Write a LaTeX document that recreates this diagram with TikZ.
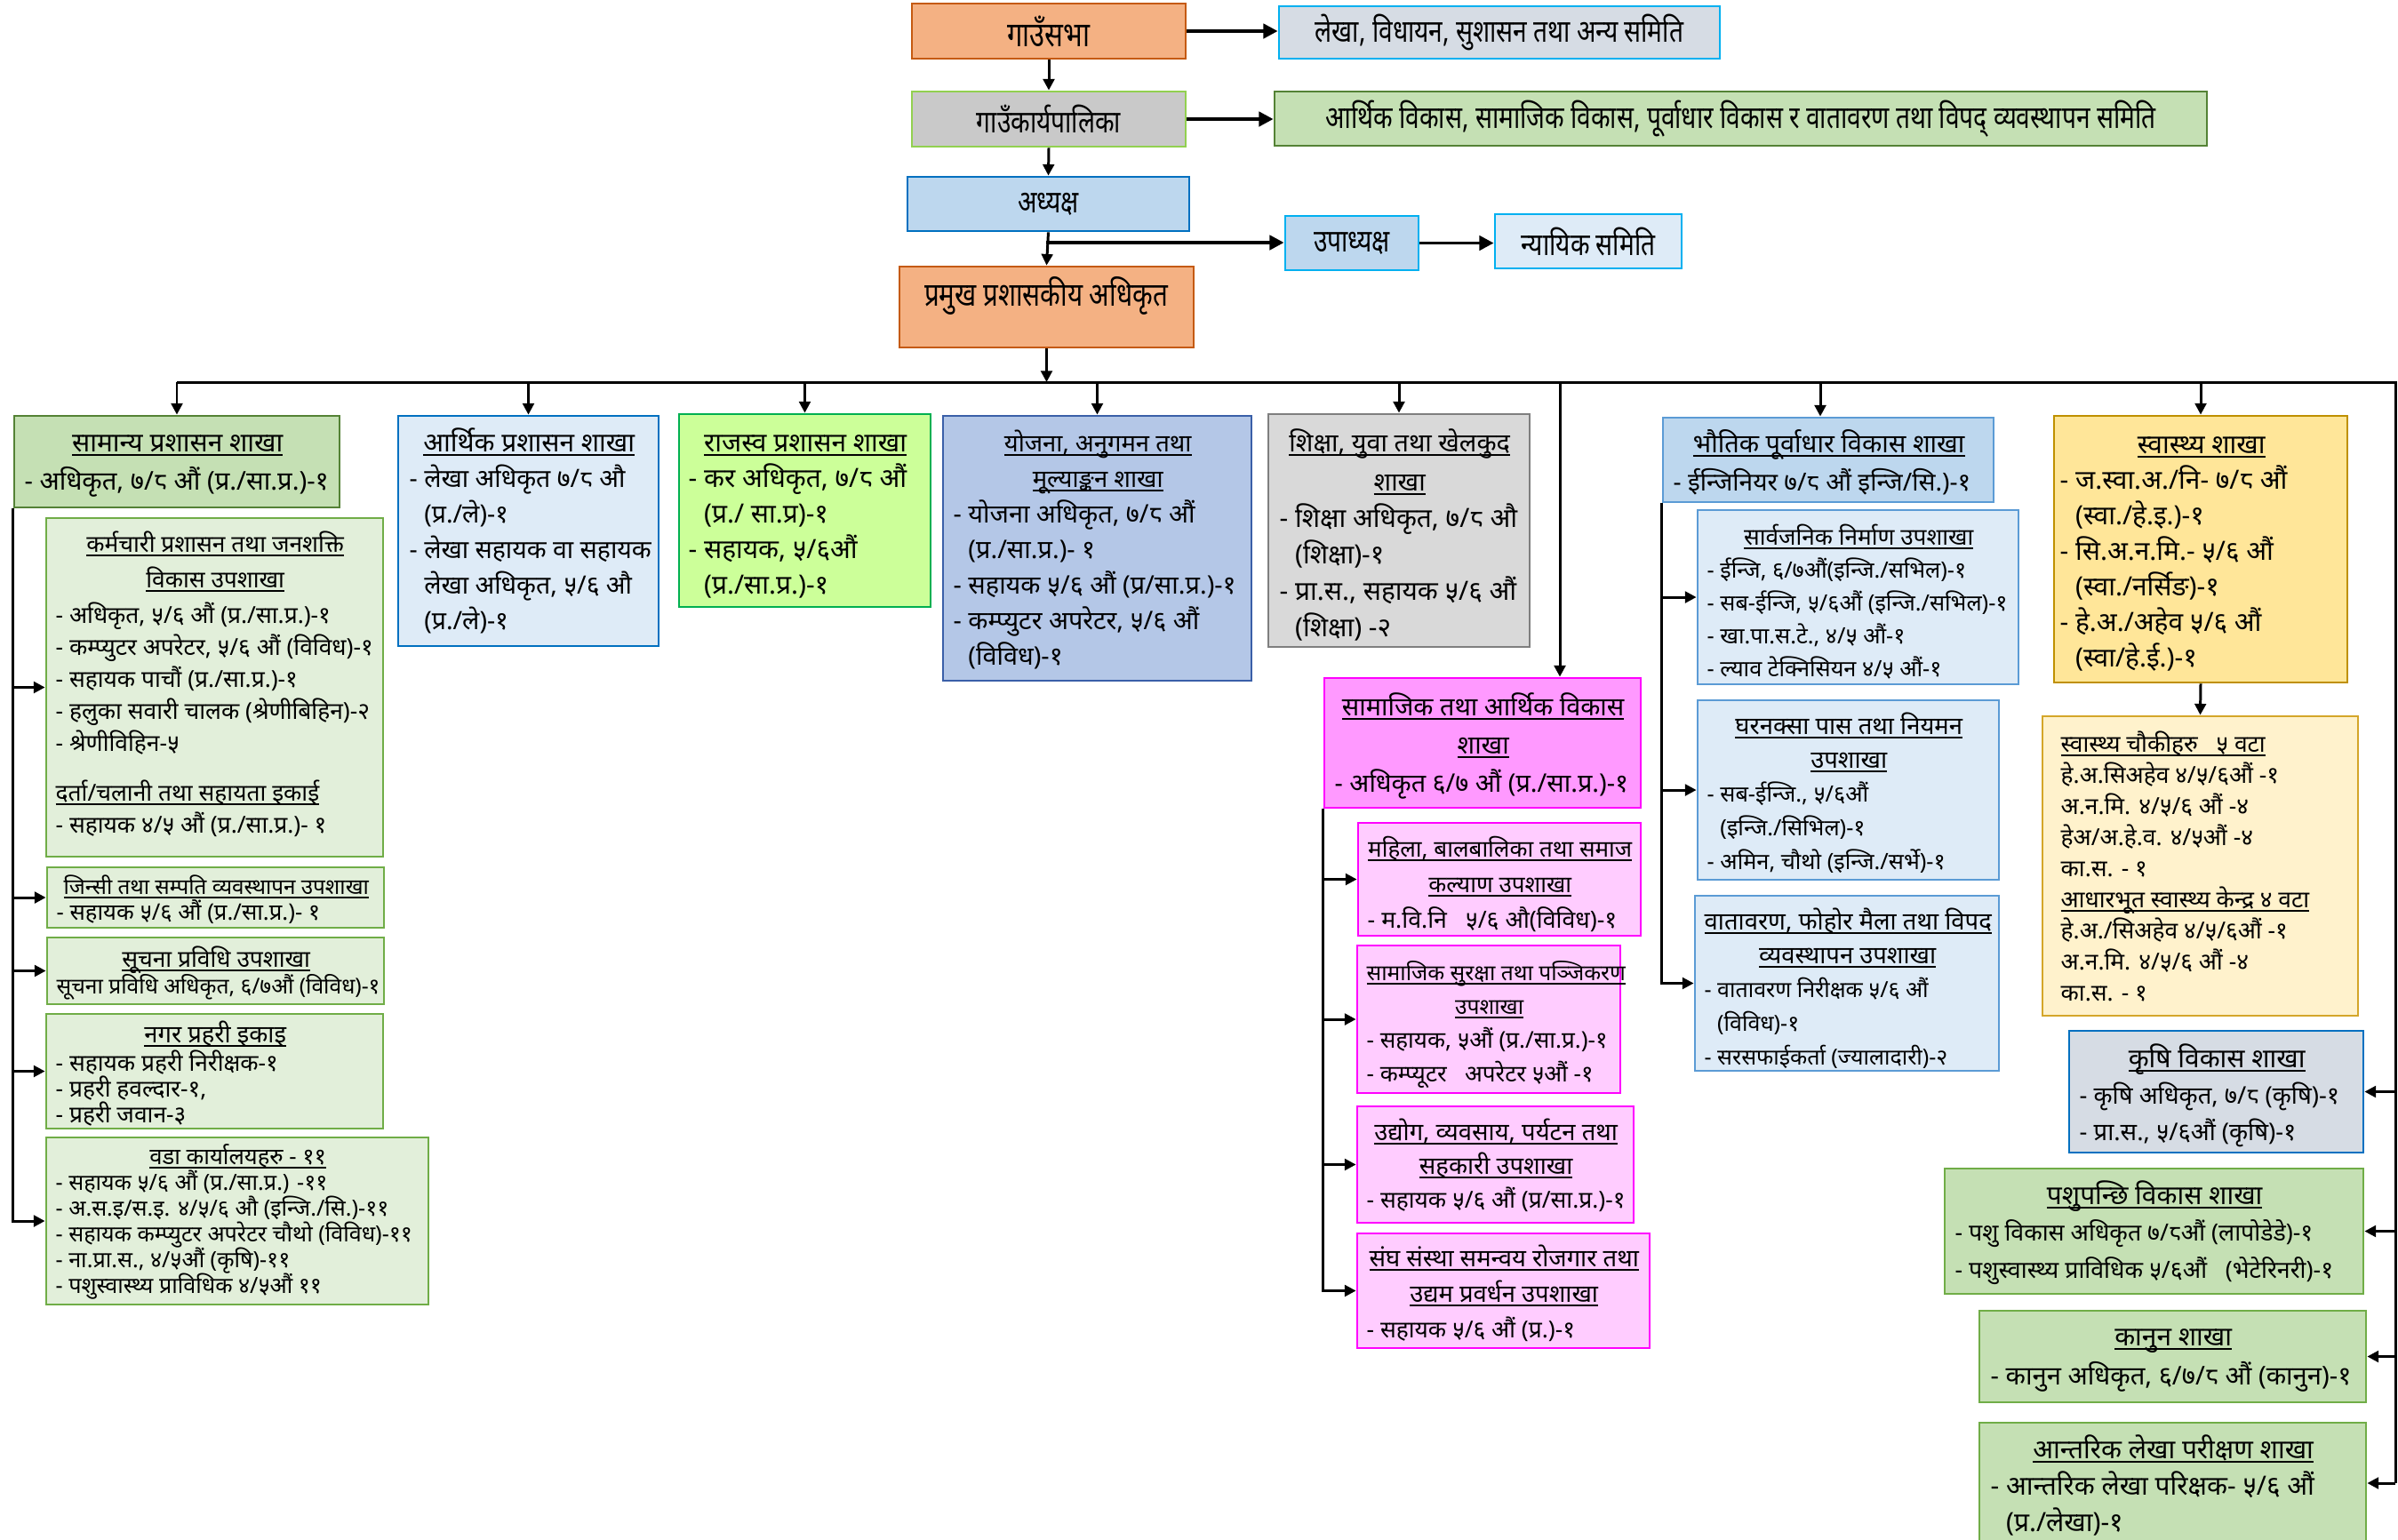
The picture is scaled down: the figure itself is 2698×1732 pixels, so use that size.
\documentclass[tikz,border=0pt]{standalone}
\usepackage{fontspec}
\usetikzlibrary{arrows.meta,calc}
\newfontfamily\dev[Script=Devanagari,Language=Nepali]{Noto Sans}
\newfontfamily\devc[Script=Devanagari,Language=Nepali,FakeStretch=0.8]{Noto Sans}
\newlength\pxu \setlength\pxu{0.1mm}
\newlength\twd
\def\hsz{8.5}
\newcommand\myul[1]{\setbox0=\hbox{#1}\rlap{\rule[-1.3pt]{\wd0}{0.55pt}}\box0}
\newcommand\Lh[1]{\hbox to\twd{\hfil\fontsize{\hsz}{10}\selectfont\bfseries\myul{#1}\hfil}}
\newcommand\Ll[1]{\hbox{\fontsize{\hsz}{10}\selectfont\bfseries\myul{#1}}}
\newcommand\Lb[1]{\hbox{#1}}
\newcommand\Sk[1]{\vskip#1\pxu}
\newcommand\ind{\hphantom{- }}
\definecolor{orF}{HTML}{F4B183}\definecolor{orD}{HTML}{C55A11}
\definecolor{bgF}{HTML}{D6DCE4}\definecolor{cyD}{HTML}{00B0F0}
\definecolor{grF}{HTML}{C9C9C9}\definecolor{lgD}{HTML}{92D050}
\definecolor{gnF}{HTML}{C5E0B4}\definecolor{gnD}{HTML}{548235}
\definecolor{gnL}{HTML}{E2EFDA}\definecolor{gnM}{HTML}{70AD47}
\definecolor{blF}{HTML}{BDD7EE}\definecolor{blD}{HTML}{0070C0}
\definecolor{pbF}{HTML}{DEEBF7}\definecolor{mbD}{HTML}{5B9BD5}
\definecolor{liF}{HTML}{CCFF99}\definecolor{liD}{HTML}{00B050}
\definecolor{peF}{HTML}{B4C7E7}\definecolor{peD}{HTML}{3A5FA8}
\definecolor{g2F}{HTML}{D9D9D9}\definecolor{g2D}{HTML}{7F7F7F}
\definecolor{pkF}{HTML}{FF99FF}\definecolor{pkD}{HTML}{FF00FF}\definecolor{pkL}{HTML}{FFCCFF}
\definecolor{yeF}{HTML}{FFE699}\definecolor{yeD}{HTML}{BF9000}\definecolor{yeL}{HTML}{FFF2CC}\definecolor{yeM}{HTML}{D4A62A}
\tikzset{
  boxs/.style={rectangle, draw, line width=0.8pt, inner sep=0pt},
  txt/.style={anchor=base west, inner sep=0pt},
  conn/.style={line width=0.85pt, black},
  arr/.style={conn, -{Triangle[length=3.6pt,width=3.6pt]}},
  arrt/.style={line width=1.1pt, black, -{Triangle[length=4.6pt,width=4.6pt]}},
  topf/.style={font=\devc\fontsize{10}{12}\selectfont},
}
\newcommand\bx[7]{\node[boxs,#6,minimum width={(#4-#2)*\pxu},minimum height={(#5-#3)*\pxu}] (#1) at ({(#2+#4)/2},{(#3+#5)/2}) {#7};}
% name, x, baseline y, header width, body size, header size, line skip, lines
\newcommand\tx[8]{\setlength\twd{#4\pxu}\def\hsz{#6}\node[txt,font=\dev\fontsize{#5}{#7\pxu}\selectfont] (#1) at (#2,#3) {\vtop{\lineskiplimit=-100pt \lineskip=0pt #8}};}
\begin{document}
\begin{tikzpicture}[x=0.1mm,y=-0.1mm]
\useasboundingbox (0,0) rectangle (2698,1732);
\fill[white] (0,0) rectangle (2698,1732);
% ---------- top ----------
\bx{sabha}{1026}{4}{1334}{66}{fill=orF,draw=orD,topf,font=\devc\fontsize{11}{13}\selectfont\bfseries}{गाउँसभा}
\bx{lekha}{1439}{7}{1935}{66}{fill=bgF,draw=cyD,topf}{लेखा, विधायन, सुशासन तथा अन्य समिति}
\bx{karya}{1026}{103}{1334}{165}{fill=grF,draw=lgD,topf}{गाउँकार्यपालिका}
\bx{samiti}{1434}{103}{2483}{164}{fill=gnF,draw=gnD,topf}{आर्थिक विकास, सामाजिक विकास, पूर्वाधार विकास र वातावरण तथा विपद् व्यवस्थापन समिति}
\bx{adhy}{1021}{199}{1338}{260}{fill=blF,draw=blD,topf}{अध्यक्ष}
\bx{upadhy}{1446}{243}{1596}{304}{fill=blF,draw=cyD,topf}{उपाध्यक्ष}
\bx{nyayik}{1682}{241}{1892}{302}{fill=pbF,draw=cyD,topf}{न्यायिक समिति}
\bx{pramukh}{1012}{300}{1343}{391}{fill=orF,draw=orD}{}
\node[inner sep=0pt,font=\devc\fontsize{10.5}{12}\selectfont\bfseries] (pramukh-t) at (1177,333) {प्रमुख प्रशासकीय अधिकृत};
% ---------- left column ----------
\bx{samanya}{16}{468}{382}{571}{fill=gnF,draw=gnD}{}
\bx{karm}{52}{583}{431}{964}{fill=gnL,draw=gnM}{}
\bx{jinsi}{53}{976}{432}{1044}{fill=gnL,draw=gnM}{}
\bx{suchana}{53}{1055}{432}{1130}{fill=gnL,draw=gnM}{}
\bx{nagar}{52}{1141}{431}{1270}{fill=gnL,draw=gnM}{}
\bx{wada}{52}{1280}{482}{1468}{fill=gnL,draw=gnM}{}
% ---------- middle ----------
\bx{arthik}{448}{468}{741}{727}{fill=pbF,draw=blD}{}
\bx{rajasva}{764}{466}{1047}{683}{fill=liF,draw=liD}{}
\bx{yojana}{1061}{468}{1408}{766}{fill=peF,draw=peD}{}
\bx{shiksha}{1427}{466}{1721}{728}{fill=g2F,draw=g2D}{}
\bx{samajik}{1490}{763}{1846}{909}{fill=pkF,draw=pkD}{}
\bx{mahila}{1528}{926}{1846}{1053}{fill=pkL,draw=pkD}{}
\bx{suraksha}{1527}{1064}{1823}{1230}{fill=pkL,draw=pkD}{}
\bx{udyog}{1527}{1245}{1838}{1376}{fill=pkL,draw=pkD}{}
\bx{sangh}{1527}{1388}{1856}{1517}{fill=pkL,draw=pkD}{}
\bx{bhautik}{1871}{470}{2243}{565}{fill=blF,draw=mbD}{}
\bx{sarv}{1910}{574}{2271}{770}{fill=pbF,draw=mbD}{}
\bx{ghar}{1910}{788}{2249}{990}{fill=pbF,draw=mbD}{}
\bx{vata}{1907}{1008}{2249}{1205}{fill=pbF,draw=mbD}{}
% ---------- right ----------
\bx{swas}{2311}{468}{2641}{768}{fill=yeF,draw=yeD}{}
\bx{chauki}{2298}{806}{2653}{1143}{fill=yeL,draw=yeM}{}
\bx{krishi}{2328}{1160}{2659}{1297}{fill=bgF,draw=blD}{}
\bx{pashu}{2188}{1315}{2659}{1456}{fill=gnF,draw=gnM}{}
\bx{kanun}{2227}{1475}{2662}{1578}{fill=gnF,draw=gnM}{}
\bx{antarik}{2227}{1601}{2662}{1737}{fill=gnF,draw=gnM}{}
% ---------- texts ----------
\tx{t-sam}{27}{508}{344}{8.3}{8.5}{43}{\Lh{सामान्य प्रशासन शाखा}\Lb{- अधिकृत, ७/८ औं (प्र./सा.प्र.)-१}}
\tx{t-karm}{62}{621}{359}{7.5}{7.5}{36}{\Lh{कर्मचारी प्रशासन तथा जनशक्ति}\Sk{4}\Lh{विकास उपशाखा}\Sk{4}\Lb{- अधिकृत, ५/६ औं (प्र./सा.प्र.)-१}\Lb{- कम्प्युटर अपरेटर, ५/६ औं (विविध)-१}\Lb{- सहायक पाचौं (प्र./सा.प्र.)-१}\Lb{- हलुका सवारी चालक (श्रेणीबिहिन)-२}\Lb{- श्रेणीविहिन-५}\Sk{20}\Ll{दर्ता/चलानी तथा सहायता इकाई}\Lb{- सहायक ४/५ औं (प्र./सा.प्र.)- १}}
\tx{t-jin}{63}{1006}{359}{7.3}{6.9}{29}{\Lh{जिन्सी तथा सम्पति व्यवस्थापन उपशाखा}\Lb{- सहायक ५/६ औं (प्र./सा.प्र.)- १}}
\tx{t-such}{63}{1088}{359}{7.0}{7.5}{30}{\Lh{सूचना प्रविधि उपशाखा}\Lb{सूचना प्रविधि अधिकृत, ६/७औं (विविध)-१}}
\tx{t-nag}{62}{1173}{359}{7.5}{7.8}{29}{\Lh{नगर प्रहरी इकाइ}\Sk{3}\Lb{- सहायक प्रहरी निरीक्षक-१}\Lb{- प्रहरी हवल्दार-१,}\Lb{- प्रहरी जवान-३}}
\tx{t-wada}{62}{1310}{410}{7.15}{7.3}{29}{\Lh{वडा कार्यालयहरु - ११}\Lb{- सहायक ५/६ औं (प्र./सा.प्र.) -११}\Lb{- अ.स.इ/स.इ. ४/५/६ औ (इन्जि./सि.)-११}\Lb{- सहायक कम्प्युटर अपरेटर चौथो (विविध)-११}\Lb{- ना.प्रा.स., ४/५औं (कृषि)-११}\Lb{- पशुस्वास्थ्य प्राविधिक ४/५औं ११}}
\tx{t-arth}{460}{508}{269}{8.1}{8.5}{40}{\Lh{आर्थिक प्रशासन शाखा}\Lb{- लेखा अधिकृत ७/८ औ}\Lb{\ind(प्र./ले)-१}\Lb{- लेखा सहायक वा सहायक}\Lb{\ind लेखा अधिकृत, ५/६ औ}\Lb{\ind(प्र./ले)-१}}
\tx{t-raj}{774}{508}{263}{8.5}{8.5}{40}{\Lh{राजस्व प्रशासन शाखा}\Lb{- कर अधिकृत, ७/८ औं}\Lb{\ind(प्र./ सा.प्र)-१}\Lb{- सहायक, ५/६औं}\Lb{\ind(प्र./सा.प्र.)-१}}
\tx{t-yoj}{1072}{508}{325}{8.2}{7.8}{40}{\Lh{योजना, अनुगमन तथा}\Lh{मूल्याङ्कन शाखा}\Lb{- योजना अधिकृत, ७/८ औं}\Lb{\ind(प्र./सा.प्र.)- १}\Lb{- सहायक ५/६ औं (प्र/सा.प्र.)-१}\Lb{- कम्प्युटर अपरेटर, ५/६ औं}\Lb{\ind(विविध)-१}}
\tx{t-shik}{1439}{508}{270}{8.5}{8.2}{41}{\Lh{शिक्षा, युवा तथा खेलकुद}\Sk{3}\Lh{शाखा}\Lb{- शिक्षा अधिकृत, ७/८ औ}\Lb{\ind(शिक्षा)-१}\Lb{- प्रा.स., सहायक ५/६ औं}\Lb{\ind(शिक्षा) -२}}
\tx{t-samj}{1501}{805}{334}{8.2}{8.2}{43}{\Lh{सामाजिक तथा आर्थिक विकास}\Lh{शाखा}\Lb{- अधिकृत ६/७ औं (प्र./सा.प्र.)-१}}
\tx{t-mah}{1538}{964}{298}{7.6}{7.4}{40}{\Lh{महिला, बालबालिका तथा समाज}\Lh{कल्याण उपशाखा}\Lb{- म.वि.नि ~ ५/६ औ(विविध)-१}}
\tx{t-sur}{1537}{1103}{276}{7.4}{7.0}{38}{\Lh{सामाजिक सुरक्षा तथा पञ्जिकरण}\Lh{उपशाखा}\Lb{- सहायक, ५औं (प्र./सा.प्र.)-१}\Lb{- कम्प्यूटर ~ अपरेटर ५औं -१}}
\tx{t-udy}{1537}{1283}{291}{7.5}{7.8}{38}{\Lh{उद्योग, व्यवसाय, पर्यटन तथा}\Lh{सहकारी उपशाखा}\Lb{- सहायक ५/६ औं (प्र/सा.प्र.)-१}}
\tx{t-sangh}{1537}{1425}{309}{7.5}{7.8}{40}{\Lh{संघ संस्था समन्वय रोजगार तथा}\Lh{उद्यम प्रवर्धन उपशाखा}\Lb{- सहायक ५/६ औं (प्र.)-१}}
\tx{t-bhau}{1882}{509}{350}{8.0}{8.25}{43}{\Lh{भौतिक पूर्वाधार विकास शाखा}\Lb{- ईन्जिनियर ७/८ औं इन्जि/सि.)-१}}
\tx{t-sarv}{1920}{613}{341}{7.2}{7.45}{37}{\Lh{सार्वजनिक निर्माण उपशाखा}\Lb{- ईन्जि, ६/७औं(इन्जि./सभिल)-१}\Lb{- सब-ईन्जि, ५/६औं (इन्जि./सभिल)-१}\Lb{- खा.पा.स.टे., ४/५ औं-१}\Lb{- ल्याव टेक्निसियन ४/५ औं-१}}
\tx{t-ghar}{1920}{826}{319}{7.2}{7.8}{38}{\Lh{घरनक्सा पास तथा नियमन}\Lh{उपशाखा}\Lb{- सब-ईन्जि., ५/६औं}\Lb{\ind(इन्जि./सिभिल)-१}\Lb{- अमिन, चौथो (इन्जि./सर्भे)-१}}
\tx{t-vata}{1917}{1046}{322}{7.1}{7.8}{38}{\Lh{वातावरण, फोहोर मैला तथा विपद}\Lh{व्यवस्थापन उपशाखा}\Lb{- वातावरण निरीक्षक ५/६ औं}\Lb{\ind(विविध)-१}\Lb{- सरसफाईकर्ता (ज्यालादारी)-२}}
\tx{t-swas}{2317}{510}{318}{8.5}{8.5}{40}{\Lh{स्वास्थ्य शाखा}\Lb{- ज.स्वा.अ./नि- ७/८ औं}\Lb{\ind(स्वा./हे.इ.)-१}\Lb{- सि.अ.न.मि.- ५/६ औं}\Lb{\ind(स्वा./नर्सिङ)-१}\Lb{- हे.अ./अहेव ५/६ औं}\Lb{\ind(स्वा/हे.ई.)-१}}
\tx{t-chau}{2318}{846}{315}{7.5}{7.5}{35}{\Ll{स्वास्थ्य चौकीहरु ~ ५ वटा}\Lb{हे.अ.सिअहेव ४/५/६औं -१}\Lb{अ.न.मि. ४/५/६ औं -४}\Lb{हेअ/अ.हे.व. ४/५औं -४}\Lb{का.स. - १}\Ll{आधारभूत स्वास्थ्य केन्द्र ४ वटा}\Lb{हे.अ./सिअहेव ४/५/६औं -१}\Lb{अ.न.मि. ४/५/६ औं -४}\Lb{का.स. - १}}
\tx{t-kri}{2339}{1201}{309}{7.8}{8.5}{41}{\Lh{कृषि विकास शाखा}\Lb{- कृषि अधिकृत, ७/८ (कृषि)-१}\Lb{- प्रा.स., ५/६औं (कृषि)-१}}
\tx{t-pashu}{2199}{1355}{449}{7.6}{8.5}{41.5}{\Lh{पशुपन्छि विकास शाखा}\Lb{- पशु विकास अधिकृत ७/८औं (लापोडेडे)-१}\Lb{- पशुस्वास्थ्य प्राविधिक ५/६औं ~ (भेटेरिनरी)-१}}
\tx{t-kanun}{2239}{1514}{411}{8.3}{8.5}{44}{\Lh{कानुन शाखा}\Lb{- कानुन अधिकृत, ६/७/८ औं (कानुन)-१}}
\tx{t-ant}{2239}{1641}{411}{8.5}{8.5}{41}{\Lh{आन्तरिक लेखा परीक्षण शाखा}\Lb{- आन्तरिक लेखा परिक्षक- ५/६ औं}\Lb{\ind(प्र./लेखा)-१}}
% ---------- connectors ----------
\draw[arrt] (sabha.east) -- (sabha.east -| lekha.west);
\draw[arrt] (karya.east) -- (karya.east -| samiti.west);
\draw[arr] (sabha.south) -- (karya.north);
\draw[arr] (karya.south) -- (adhy.north);
\draw[arr] (adhy.south) -- (pramukh.north);
\coordinate (jU) at (1177,273);
\draw[arrt] (jU) -- (jU -| upadhy.west);
\draw[arrt] (upadhy.east) -- (upadhy.east -| nyayik.west);
\coordinate (busC) at (1177,430);
\coordinate (busR) at (2695,430);
\draw[arr] (pramukh.south) -- (pramukh.south |- busC);
\draw[conn] (samanya.north |- busC) -- (busR) -- (busR |- antarik.east);
\draw[arr] (samanya.north |- busC) -- (samanya.north);
\draw[arr] (arthik.north |- busC) -- (arthik.north);
\draw[arr] (rajasva.north |- busC) -- (rajasva.north);
\draw[arr] (yojana.north |- busC) -- (yojana.north);
\draw[arr] (shiksha.north |- busC) -- (shiksha.north);
\coordinate (dS) at (1755,430);
\draw[arr] (dS) -- (dS |- samajik.north);
\coordinate (dB) at (2048,430);
\draw[arr] (dB) -- (dB |- bhautik.north);
\draw[arr] (swas.north |- busC) -- (swas.north);
\draw[arr] (swas.south) -- (chauki.north);
\draw[arr] (busR |- krishi.east) -- (krishi.east);
\draw[arr] (busR |- pashu.east) -- (pashu.east);
\draw[arr] (busR |- kanun.east) -- (kanun.east);
\draw[arr] (busR |- antarik.east) -- (antarik.east);
\draw[arr] (samanya.south west) |- (karm.west);
\draw[arr] (samanya.south west) |- (jinsi.west);
\draw[arr] (samanya.south west) |- (suchana.west);
\draw[arr] (samanya.south west) |- (nagar.west);
\draw[arr] (samanya.south west) |- (wada.west);
\draw[arr] (samajik.south west) |- (mahila.west);
\draw[arr] (samajik.south west) |- (suraksha.west);
\draw[arr] (samajik.south west) |- (udyog.west);
\draw[arr] (samajik.south west) |- (sangh.west);
\draw[arr] (bhautik.south west) |- (sarv.west);
\draw[arr] (bhautik.south west) |- (ghar.west);
\draw[arr] (bhautik.south west) |- (vata.west);
\end{tikzpicture}
\end{document}
